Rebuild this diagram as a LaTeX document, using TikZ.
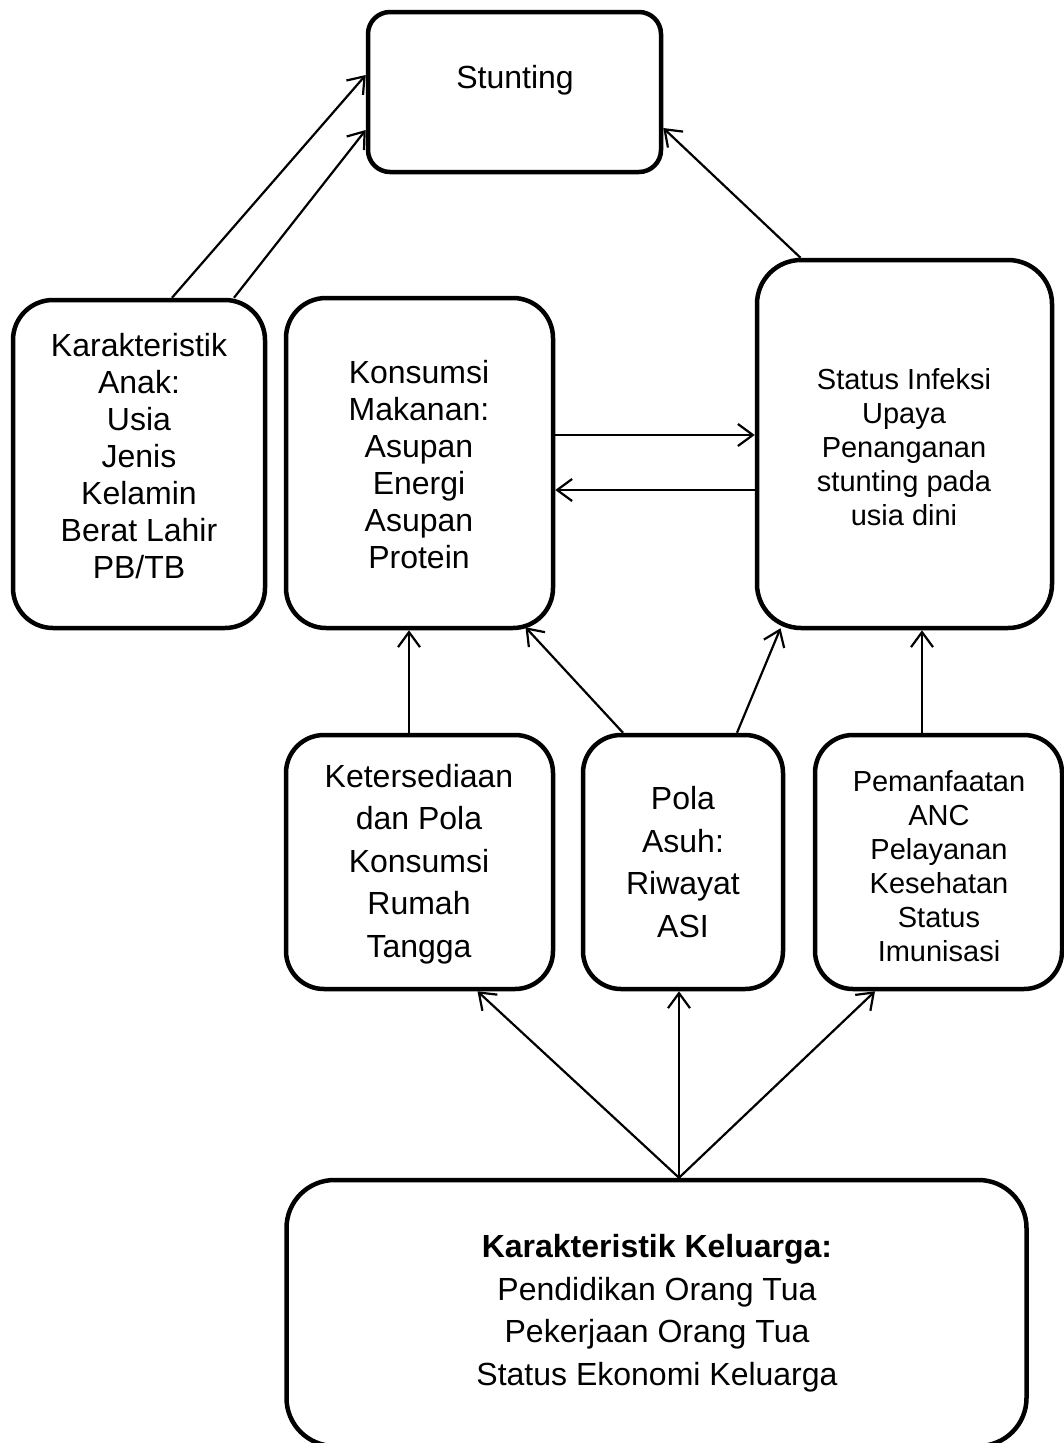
\documentclass[tikz,border=0pt]{standalone}
\usepackage{fontspec}
\setmainfont{Liberation Sans}
\usetikzlibrary{arrows.meta}
\tikzset{
  box/.style={draw, line width=4.5pt, inner sep=0pt},
  txt/.style={align=center, inner sep=0pt},
  big/.style={font=\fontsize{32pt}{37pt}\selectfont},
  bigwide/.style={font=\fontsize{32pt}{42.5pt}\selectfont},
  small/.style={font=\fontsize{29pt}{34pt}\selectfont},
  arr/.style={line width=2.2pt, -{Straight Barb[length=15pt,width=22pt,line width=2.2pt]}}
}
\begin{document}
\begin{tikzpicture}[x=1pt,y=-1pt]
\useasboundingbox (0,0) rectangle (1063,1443);
% boxes
\node[box, rounded corners=22pt, minimum width=293pt, minimum height=160pt] (stunt) at (514.5,92) {};
\node[box, rounded corners=40pt, minimum width=252pt, minimum height=328pt] (anak) at (139,464) {};
\node[box, rounded corners=40pt, minimum width=267pt, minimum height=330pt] (kons) at (419.5,463) {};
\node[box, rounded corners=44pt, minimum width=295pt, minimum height=368pt] (status) at (904.5,444) {};
\node[box, rounded corners=38pt, minimum width=267pt, minimum height=254pt] (ket) at (419.5,862) {};
\node[box, rounded corners=38pt, minimum width=200pt, minimum height=254pt] (pola) at (683,862) {};
\node[box, rounded corners=38pt, minimum width=247pt, minimum height=254pt] (pem) at (938.5,862) {};
\node[box, rounded corners=48pt, minimum width=740pt, minimum height=266pt] (kel) at (656.5,1313) {};
% texts
\node[txt, big] (tstunt) at (515,80) {Stunting};
\node[txt, big] (tanak) at (139,456) {Karakteristik\\Anak:\\Usia\\Jenis\\Kelamin\\Berat Lahir\\PB/TB};
\node[txt, big] (tkons) at (419,465) {Konsumsi\\Makanan:\\Asupan\\Energi\\Asupan\\Protein};
\node[txt, small] (tstatus) at (904,447) {Status Infeksi\\Upaya\\Penanganan\\stunting pada\\usia dini};
\node[txt, bigwide] (tket) at (419,864) {Ketersediaan\\dan Pola\\Konsumsi\\Rumah\\Tangga};
\node[txt, bigwide] (tpola) at (683,862) {Pola\\Asuh:\\Riwayat\\ASI};
\node[txt, small] (tpem) at (939,866) {Pemanfaatan\\ANC\\Pelayanan\\Kesehatan\\Status\\Imunisasi};
\node[txt, bigwide] (tkel) at (657,1313) {\textbf{Karakteristik Keluarga:}\\Pendidikan Orang Tua\\Pekerjaan Orang Tua\\Status Ekonomi Keluarga};
% helper coordinates
\coordinate (h1) at (0,435);
\coordinate (h2) at (0,490);
\coordinate (v1) at (409,0);
\coordinate (v2) at (922,0);
\coordinate (conv) at ([xshift=22.5pt]kel.north);
% connectors
\draw[arr] ([xshift=33pt]anak.north) -- ([yshift=17pt]stunt.west);
\draw[arr] ([xshift=95pt]anak.north) -- ([yshift=-38pt]stunt.west);
\draw[arr] ([xshift=-104pt]status.north) -- ([yshift=-36pt]stunt.east);
\draw[arr] (kons.east |- h1) -- (status.west |- h1);
\draw[arr] (status.west |- h2) -- (kons.east |- h2);
\draw[arr] (ket.north -| v1) -- (kons.south -| v1);
\draw[arr] ([xshift=-60pt]pola.north) -- ([xshift=106pt,yshift=3pt]kons.south);
\draw[arr] ([xshift=54pt]pola.north) -- ([xshift=-124pt,yshift=2pt]status.south);
\draw[arr] (pem.north -| v2) -- (status.south -| v2);
\draw[arr] (conv) -- ([xshift=58pt]ket.south);
\draw[arr] (conv) -- (pola.south -| conv);
\draw[arr] (conv) -- ([xshift=-63.5pt]pem.south);
\end{tikzpicture}
\end{document}
